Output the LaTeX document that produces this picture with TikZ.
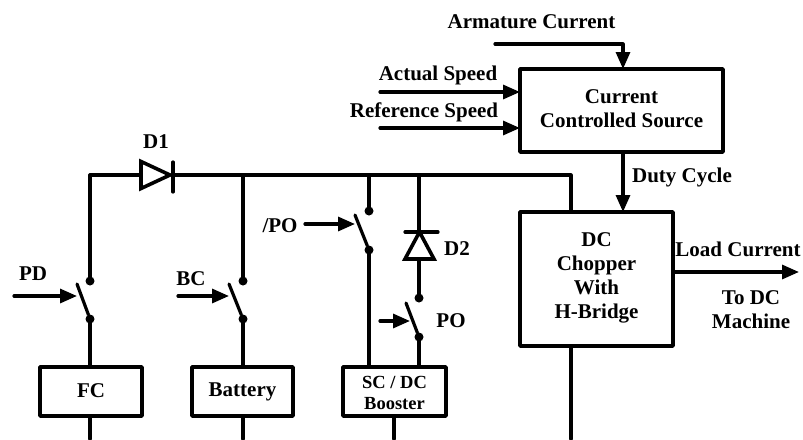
\documentclass[tikz,border=0pt]{standalone}
\usepackage{fontspec}
\setmainfont{Liberation Serif}
\usetikzlibrary{arrows.meta,calc}
\newcommand\liftedtext[2]{\raisebox{#1}[\height][\depth]{\begin{tabular}{@{}c@{}}#2\end{tabular}}}
\tikzset{
  wire/.style={line width=3.2pt,line cap=round,line join=round},
  sig/.style={wire,-{Triangle[length=17pt,width=14pt]}},
  block/.style={draw,line width=3.6pt,line join=round,rectangle,inner sep=0pt,outer sep=0pt,align=center,font=\fontsize{21}{24}\selectfont\bfseries},
  lab/.style={inner sep=0pt,outer sep=0pt,align=center,font=\fontsize{21}{24}\selectfont\bfseries},
  dot/.style={circle,fill=black,inner sep=0pt,minimum size=9pt,outer sep=0pt},
  diode/.style={line width=3.6pt,line join=miter,fill=white}
}
\begin{document}
\begin{tikzpicture}[x=1pt,y=-1pt]
\useasboundingbox (0,0) rectangle (803,439);
% blocks
\node[block,minimum width=203pt,minimum height=83pt] (ccs) at (621.5,110.5) {\liftedtext{0pt}{Current\\Controlled Source}};
\node[block,minimum width=153pt,minimum height=134pt] (chop) at (596.5,279) {\liftedtext{1pt}{DC\\Chopper\\With\\H-Bridge}};
\node[block,minimum width=102pt,minimum height=49pt] (fc) at (91,391.5) {\liftedtext{-1pt}{FC}};
\node[block,minimum width=101pt,minimum height=49pt] (bat) at (242.5,391.5) {Battery};
\node[block,minimum width=103pt,minimum height=49pt,font=\fontsize{18.5}{21}\selectfont\bfseries] (sc) at (394.5,391.5) {\liftedtext{-3pt}{SC / DC\\Booster}};
% named points
\coordinate (armS) at (495,44);
\coordinate (armT) at (623,69);
\coordinate (actS) at (380,92);
\coordinate (actT) at (520,92);
\coordinate (refS) at (380,128);
\coordinate (refT) at (520,128);
\coordinate (dutyS) at (623,152);
\coordinate (dutyT) at (623,212);
\coordinate (loadS) at (673,272);
\coordinate (loadT) at (799,272);
\coordinate (busL) at (90,175);
\coordinate (busR) at (571,175);
\coordinate (chopT) at (571,212);
\coordinate (chopB) at (571,346);
\coordinate (chopE) at (571,439);
\coordinate (d1L) at (141,175);
\coordinate (d1R) at (173,175);
% dots
\node[dot] (a1) at (90,281) {};
\node[dot] (a2) at (90,319) {};
\node[dot] (b1) at (243,281) {};
\node[dot] (b2) at (243,319) {};
\node[dot] (c1) at (369,211) {};
\node[dot] (c2) at (369,250) {};
\node[dot] (e1) at (419,298) {};
\node[dot] (e2) at (419,337) {};
% signal arrows
\draw[wire] (armS) -| ($(armT)+(0,-20)$);
\draw[sig] ($(armT)+(0,-20)$) -- (armT);
\draw[sig] (actS) -- (actT);
\draw[sig] (refS) -- (refT);
\draw[sig] (dutyS) -- (dutyT);
\draw[sig] (loadS) -- (loadT);
% bus
\draw[wire] (a1) -- (busL) -- (d1L);
\draw[wire] (d1R) -- (busR) -- (chopT);
\draw[wire] (chopB) -- (chopE);
\draw[wire] (b1) -- (243,175);
\draw[wire] (c1) -- (369,175);
\draw[wire] (419,175) -- (419,232);
\draw[wire] (419,259) -- (e1);
% lower leads
\draw[wire] (a2) -- (90,367);
\draw[wire] (b2) -- (243,367);
\draw[wire] (c2) -- (369,367);
\draw[wire] (e2) -- (419,367);
\draw[wire] (fc.south -| 90,0) -- (90,439);
\draw[wire] (bat.south -| 243,0) -- (243,439);
\draw[wire] (sc.south -| 394,0) -- (394,439);
% switch blades and their actuators
\coordinate (a3) at (77,284);
\coordinate (b3) at (229,284);
\coordinate (c3) at (355,215);
\coordinate (e3) at (406,303);
\draw[wire] (a3) -- (a2);
\draw[wire] (b3) -- (b2);
\draw[wire] (c3) -- (c2);
\draw[wire] (e3) -- (e2);
\draw[sig] (14,296) -- (77,296);
\draw[sig] (178,296) -- (229,296);
\draw[sig] (305,224) -- (355,224);
\draw[sig] (380,321) -- (410,321);
% diodes
\draw[diode] (141,161.5) -- (170,175) -- (141,188.5) -- cycle;
\draw[wire] (173,162) -- (173,192);
\draw[diode] (419.5,232) -- (405,259) -- (434,259) -- cycle;
\draw[wire] (405,232) -- (438,232);
% labels
\node[lab] (t1) at (531.5,22) {Armature Current};
\node[lab] (t2) at (438,75.5) {Actual Speed};
\node[lab] (t3) at (424,112) {Reference Speed};
\node[lab] (t4) at (682,177.5) {Duty Cycle};
\node[lab] (t5) at (156,142) {D1};
\node[lab] (t6) at (33,274) {PD};
\node[lab] (t7) at (191,279) {BC};
\node[lab] (t8) at (280,226) {/PO};
\node[lab] (t9) at (457,249) {D2};
\node[lab] (t10) at (451,321) {PO};
\node[lab] (t11) at (738,249) {Load Current};
\node[lab] (t12) at (751,310) {To DC\\Machine};
\end{tikzpicture}
\end{document}
